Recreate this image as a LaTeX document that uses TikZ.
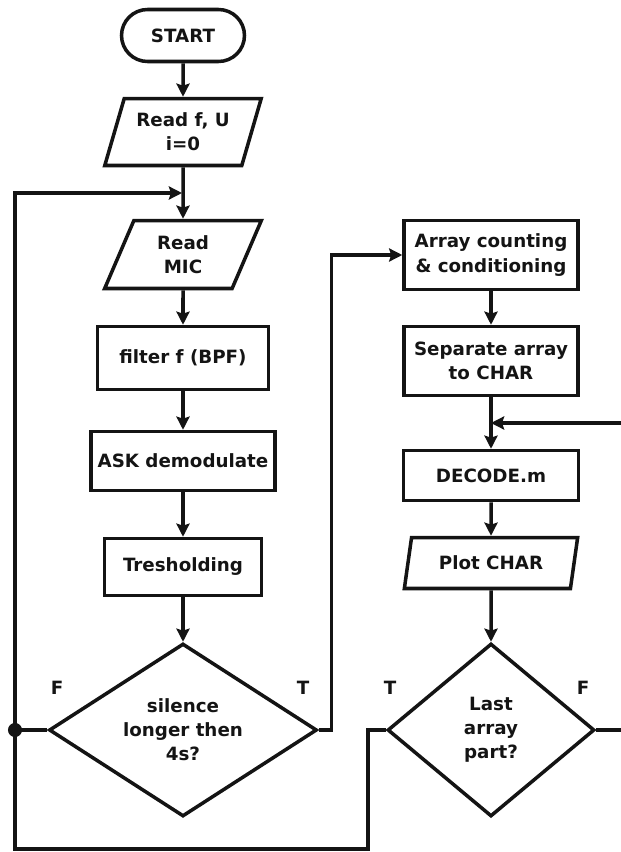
\documentclass[tikz,border=0pt]{standalone}
\usepackage{fontspec}
\setmainfont{DejaVu Sans}
\usepackage{tikz}
\usetikzlibrary{arrows.meta,shapes.geometric,shapes.misc,calc}
\definecolor{fcInk}{HTML}{141414}
\tikzset{
  chart/.style={
    font=\fontsize{10.4pt}{13.7pt}\selectfont\bfseries,
    >={Stealth[length=7.5pt, width=7.5pt, inset=1.2pt]},
    line cap=butt, line join=miter,
    line width=2pt, color=fcInk,
  },
  terminal/.style={
    rounded rectangle, draw, line width=2pt,
    minimum width=2.46cm, minimum height=1.04cm,
    inner sep=0pt, align=center,
  },
  io/.style={
    trapezium, draw, line width=2pt,
    trapezium stretches=true,
    inner sep=0pt, align=center,
  },
  process/.style={
    rectangle, draw, line width=2pt,
    inner sep=0pt, align=center,
  },
  decision/.style={
    diamond, draw, line width=2pt, aspect=1.54,
    inner sep=0pt, align=center,
  },
  flow/.style={->},
  junction/.style={circle, fill=fcInk, inner sep=0pt, minimum size=8pt},
  branchLabel/.style={inner sep=0pt},
}

\begin{document}
\begin{tikzpicture}[chart, x=0.02cm, y=-0.02cm]
\useasboundingbox (0,0) rectangle (621,852);
\clip (0,0) rectangle (621,852);

% ============================================================
% LEFT COLUMN: acquisition and detection, x = 183
% ============================================================
\node[terminal] (start) at (183,35.5) {START};
\node[io, trapezium left angle=68, trapezium right angle=112,
      minimum width=3.14cm, minimum height=1.34cm]
  (readf) at (183,132) {Read f, U\\i=0};
\node[io, trapezium left angle=68, trapezium right angle=112,
      minimum width=3.14cm, minimum height=1.36cm]
  (readmic) at (183,254.5) {Read\\MIC};
\node[process, minimum width=3.42cm, minimum height=1.26cm]
  (filter) at (183,358) {filter f (BPF)};
\node[process, minimum width=3.68cm, minimum height=1.18cm]
  (ask) at (183,461) {ASK demodulate};
\node[process, minimum width=3.14cm, minimum height=1.14cm]
  (tresh) at (183,567) {Tresholding};
\node[decision, minimum width=5.36cm, minimum height=3.46cm]
  (silence) at (183,730) {silence\\longer then\\4s?};

\draw[flow] (start) -- (readf);
\draw[flow] (readf) -- (readmic);
\draw[flow] (readmic) -- (filter);
\draw[flow] (filter) -- (ask);
\draw[flow] (ask) -- (tresh);
\draw[flow] (tresh) -- (silence);

% Branch labels of the first test
\node[branchLabel] (silF) at (57,688) {F};
\node[branchLabel] (silT) at (303,688) {T};

% ============================================================
% RIGHT COLUMN: decoding, x = 491
% ============================================================
\node[process, minimum width=3.48cm, minimum height=1.38cm]
  (array) at (491,255) {Array counting\\\& conditioning};
\node[process, minimum width=3.48cm, minimum height=1.38cm]
  (separate) at (491,361) {Separate array\\to CHAR};
\node[process, minimum width=3.50cm, minimum height=1.00cm]
  (decode) at (491,475.5) {DECODE.m};
\node[io, trapezium left angle=71.5, trapezium right angle=108.5,
      minimum width=3.48cm, minimum height=1.02cm]
  (plotchar) at (491,563) {Plot CHAR};
\node[decision, minimum width=4.14cm, minimum height=3.46cm]
  (last) at (491,730) {Last\\array\\part?};

\draw[flow] (array) -- (separate);
\draw[flow] (separate) -- (decode);
\draw[flow] (decode) -- (plotchar);
\draw[flow] (plotchar) -- (last);

% Branch labels of the second test
\node[branchLabel] (lastT) at (390,688) {T};
\node[branchLabel] (lastF) at (583,688) {F};

% ============================================================
% LOOPS
% ============================================================
\node[junction] (loopJ) at (15,730) {};
\coordinate (loopIn) at (182,193);
\coordinate (backLow) at (368,849);
\coordinate (mergeIn) at ($(separate.south)!0.5!(decode.north)$);

% T of the silence test -> array counting
\draw[flow] (silence.east) -- ++(13,0) |- (array.west);
% F of the silence test -> back to reading MIC
\draw[flow] (silence.west) -- (loopJ.center) |- (loopIn);
% T of the last-part test -> back to the left loop
\draw (last.west) -| (backLow) -| (loopJ.center);
% F of the last-part test -> next CHAR (runs past the page edge)
\draw[flow] (last.east) -- ++(40,0) |- (mergeIn);

\end{tikzpicture}
\end{document}
